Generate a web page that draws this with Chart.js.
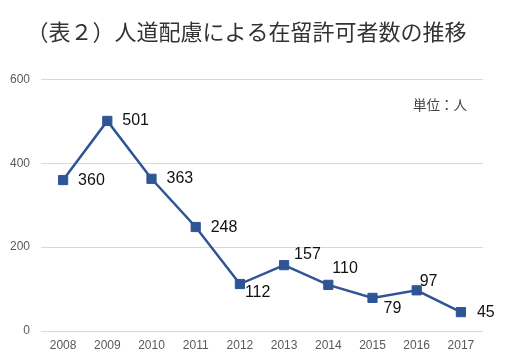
<!DOCTYPE html>
<html>
<head>
<meta charset="utf-8">
<script src="https://cdn.jsdelivr.net/npm/chart.js@4"></script>
<style>
  body { margin: 0; background: #fff; }
  #wrap { position: relative; width: 505px; height: 362px; }
  #unit { position: absolute; left: 413px; top: 94px; font: 13.5px "Noto Sans CJK JP", sans-serif; color: #404040; }
</style>
</head>
<body>
<div id="wrap">
  <canvas id="graphe"></canvas>
  <div id="unit">単位：人</div>
</div>
<script>
// données
var annees = ["2008", "2009", "2010", "2011", "2012", "2013", "2014", "2015", "2016", "2017"];
var permis = [360, 501, 363, 248, 112, 157, 110, 79, 97, 45];
var graduations = [0, 200, 400, 600];

// étiquettes de valeur a cote des points
var etiquettes = {
  id: 'etiquettes',
  afterDatasetsDraw: function(chart, args, opts) {
    var ctx = chart.ctx;
    var meta = chart.getDatasetMeta(0);
    ctx.save();
    ctx.font = '16px "Liberation Sans", Arial, sans-serif';
    ctx.fillStyle = '#111';
    ctx.textAlign = 'left';
    ctx.textBaseline = 'middle';
    meta.data.forEach(function(pt, i) {
      var dec = opts.decalages[i];
      ctx.fillText(String(chart.data.datasets[0].data[i]), pt.x + dec[0], pt.y + dec[1]);
    });
    ctx.restore();
  }
};

var ctx = document.getElementById("graphe").getContext('2d');
var monGraphe = new Chart(ctx, {
  type: 'line',
  data: {
    labels: annees,
    datasets: [{
      data: permis,
      borderColor: "#2F5597",
      backgroundColor: "#2F5597",
      borderWidth: 2.5,
      pointStyle: 'rect',
      pointRadius: 6.5,
      pointBorderWidth: 1,
      tension: 0
    }]
  },
  options: {
    responsive: true,
    maintainAspectRatio: false,
    animation: false,
    layout: { padding: { left: 10, right: 22, bottom: 0 } },
    plugins: {
      legend: { display: false },
      tooltip: { enabled: false },
      title: {
        display: true,
        text: '（表２）人道配慮による在留許可者数の推移',
        color: '#333',
        font: { family: '"Noto Sans CJK JP", sans-serif', size: 22, weight: 'normal' },
        padding: { top: 18, bottom: 35 }
      },
      etiquettes: {
        decalages: [[15, 1], [15, 0], [15, 0], [15, 1], [5, 9], [10, -11], [4, -16], [11, 11], [3, -9], [16, 0]]
      }
    },
    scales: {
      x: {
        offset: true,
        grid: { display: false, drawTicks: false },
        border: { display: false },
        ticks: { color: '#595959', padding: 7, font: { family: '"Liberation Sans", Arial', size: 12 } },
        afterFit: function(axis) { axis.height = 31; }
      },
      y: {
        min: 0,
        max: 600,
        afterBuildTicks: function(axis) {
          axis.ticks = graduations.map(function(v) { return { value: v }; });
        },
        grid: { color: '#d9d9d9', drawTicks: false, lineWidth: 1 },
        border: { display: false },
        ticks: { color: '#595959', padding: 11, font: { family: '"Liberation Sans", Arial', size: 12 } },
        afterFit: function(axis) { axis.width = 31; }
      }
    }
  },
  plugins: [etiquettes]
});
</script>
</body>
</html>
